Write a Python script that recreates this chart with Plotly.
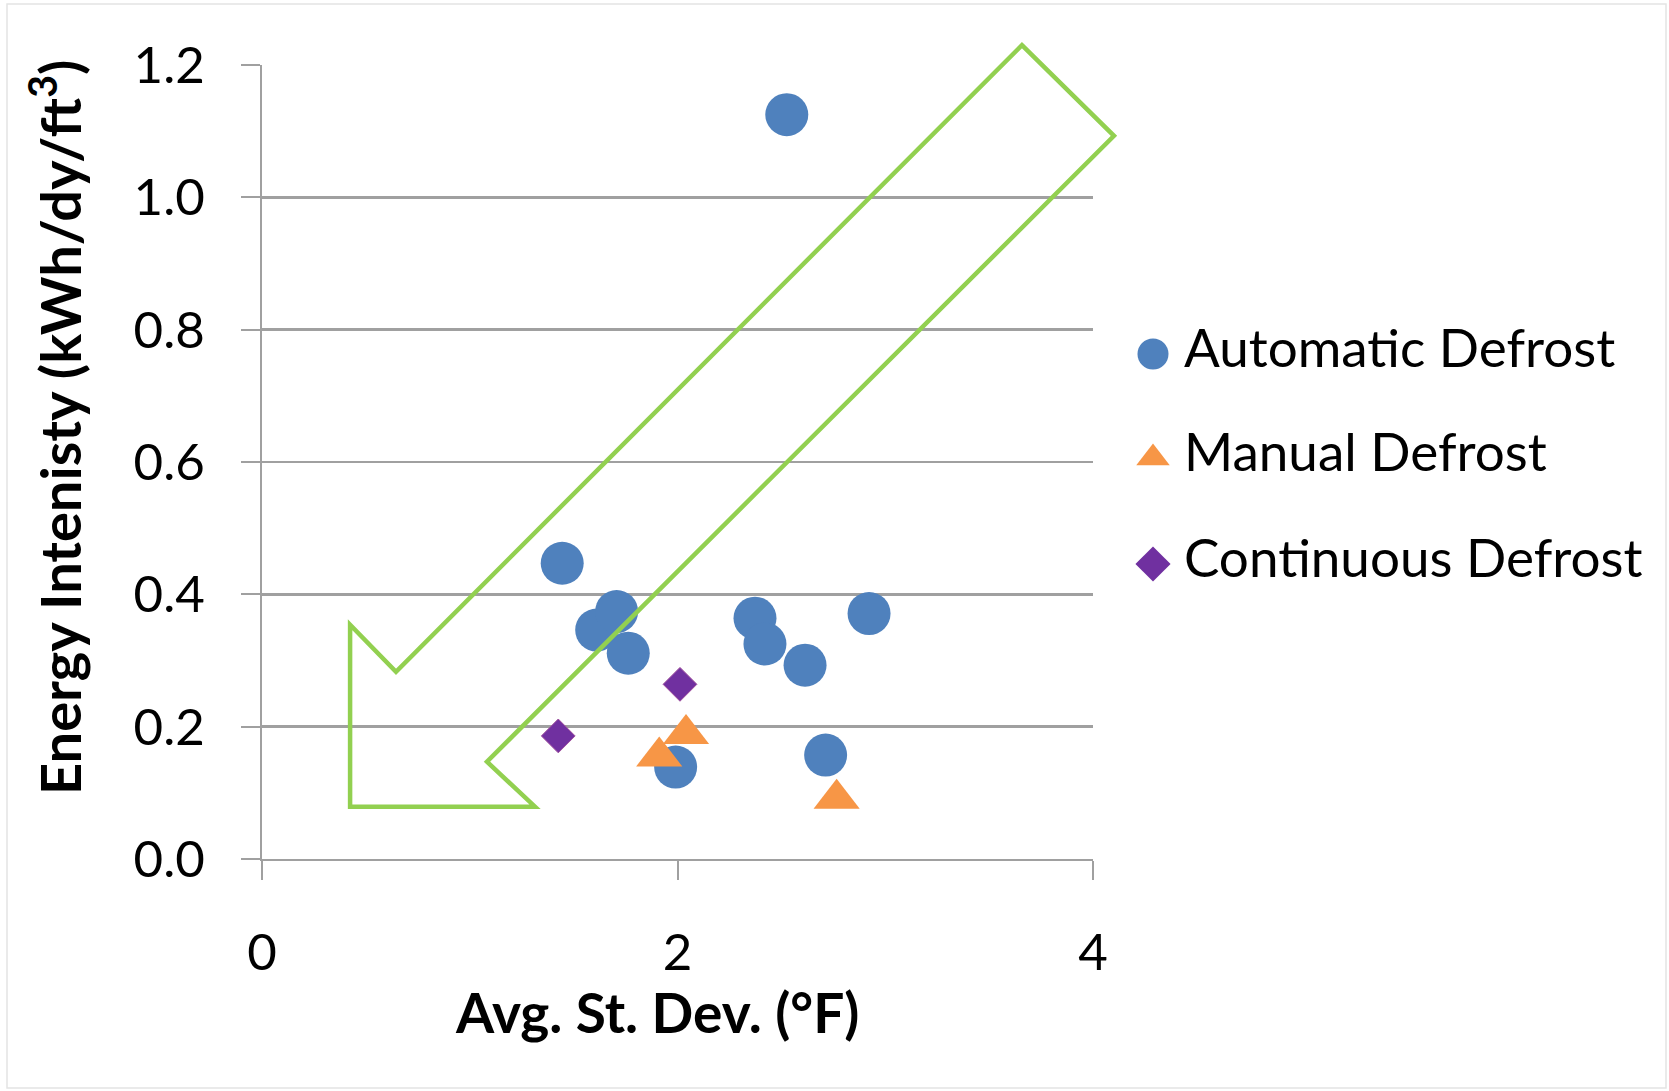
import plotly.graph_objects as go

# ---------------- data ----------------
series_names = ["Automatic Defrost", "Manual Defrost", "Continuous Defrost"]
auto_x = [1.445, 1.611, 1.707, 1.763, 2.373, 2.421, 2.614, 2.922, 1.991, 2.713, 2.526]
auto_y = [0.447, 0.346, 0.374, 0.311, 0.364, 0.325, 0.293, 0.371, 0.139, 0.157, 1.125]
manual_x = [1.912, 2.041, 2.766]
manual_y = [0.155, 0.189, 0.091]
cont_x = [1.426, 2.012]
cont_y = [0.186, 0.264]
x_ticks = [0, 2, 4]
y_ticks = [0.0, 0.2, 0.4, 0.6, 0.8, 1.0, 1.2]

# arrow outline (data units)
arrow_x = [3.658, 4.101, 1.083, 1.314, 0.424, 0.424, 0.645]
arrow_y = [1.230, 1.093, 0.147, 0.079, 0.079, 0.354, 0.283]

# ---------------- layout geometry ----------------
W, H = 1669, 1091
ML, MR, MT, MB = 262, 0, 65, 232
PW = W - ML - MR
PH = H - MT - MB
plot_w = 831
XMAX, YMAX = 4, 1.2
x_dom_end = plot_w / PW

def px_to_paper_x(px):
    return (px - ML) / PW

def px_to_paper_y(py):
    return (H - MB - py) / PH

def data_to_paper(x, y):
    return x / XMAX * x_dom_end, y / YMAX

FONT = "Lato, 'Open Sans', sans-serif"
BLUE = "#4F81BD"
ORANGE = "#F79646"
PURPLE = "#7030A0"
GREEN = "#92D050"
GRID = "#a0a0a0"

fig = go.Figure()

fig.add_trace(go.Scatter(x=auto_x, y=auto_y, mode="markers", name=series_names[0],
                         marker=dict(symbol="circle", size=43, color=BLUE, line=dict(width=0)),
                         showlegend=False, cliponaxis=False))
fig.add_trace(go.Scatter(x=manual_x, y=manual_y, mode="markers", name=series_names[1],
                         marker=dict(symbol="triangle-up", size=40, color=ORANGE, line=dict(width=0)),
                         showlegend=False, cliponaxis=False))
fig.add_trace(go.Scatter(x=cont_x, y=cont_y, mode="markers", name=series_names[2],
                         marker=dict(symbol="diamond", size=26, color=PURPLE,
                                     line=dict(width=1, color="#a0509e")),
                         showlegend=False, cliponaxis=False))

# ---------------- custom legend (second axis pair) ----------------
leg_dom_start_px = 1120
leg_w = W - MR - leg_dom_start_px
leg_sym_x = (1153 - leg_dom_start_px) / leg_w
leg_txt_x = (1184 - leg_dom_start_px) / leg_w
leg_y = [px_to_paper_y(p) for p in (354, 458, 564)]
leg_symbols = ["circle", "triangle-up", "diamond"]
leg_sizes = [31, 29, 27]
leg_colors = [BLUE, ORANGE, PURPLE]

for i in range(3):
    fig.add_trace(go.Scatter(x=[leg_sym_x], y=[leg_y[i]], xaxis="x2", yaxis="y2",
                             mode="markers", showlegend=False, hoverinfo="skip",
                             marker=dict(symbol=leg_symbols[i], size=leg_sizes[i],
                                         color=leg_colors[i], line=dict(width=0))))
fig.add_trace(go.Scatter(x=[leg_txt_x] * 3, y=leg_y, xaxis="x2", yaxis="y2",
                         mode="text", text=series_names, textposition="middle right",
                         textfont=dict(family=FONT, size=53, color="#000000"),
                         showlegend=False, hoverinfo="skip"))

# ---------------- arrow shape ----------------
pts = [data_to_paper(x, y) for x, y in zip(arrow_x, arrow_y)]
path = "M " + " L ".join(f"{px:.5f},{py:.5f}" for px, py in pts) + " Z"
fig.add_shape(type="path", path=path, xref="paper", yref="paper",
              line=dict(color=GREEN, width=4.5), fillcolor="rgba(0,0,0,0)", layer="above")

# faint frame around the image
fig.add_shape(type="rect", xref="paper", yref="paper",
              x0=px_to_paper_x(7), x1=px_to_paper_x(1666),
              y0=px_to_paper_y(1088), y1=px_to_paper_y(4),
              line=dict(color="#e4e4e4", width=1.5), layer="below")

# ---------------- axis titles ----------------
fig.add_annotation(text="<b>Energy Intenisty (kWh/dy/ft<sup>3</sup>)</b>",
                   xref="paper", yref="paper", x=px_to_paper_x(55), y=px_to_paper_y(428),
                   xanchor="center", yanchor="middle", textangle=-90, showarrow=False,
                   font=dict(family=FONT, size=56, color="#000000"))
fig.add_annotation(text="<b>Avg. St. Dev. (°F)</b>",
                   xref="paper", yref="paper", x=px_to_paper_x(657), y=px_to_paper_y(1012),
                   xanchor="center", yanchor="middle", showarrow=False,
                   font=dict(family=FONT, size=55, color="#000000"))

fig.update_layout(
    width=W, height=H, autosize=False,
    margin=dict(l=ML, r=MR, t=MT, b=MB, autoexpand=False),
    paper_bgcolor="white", plot_bgcolor="white",
    showlegend=False,
    font=dict(family=FONT, color="#000000"),
    xaxis=dict(domain=[0, x_dom_end], range=[0, XMAX], tickvals=x_ticks,
               ticktext=[str(v) for v in x_ticks],
               showgrid=False, zeroline=False, showline=True, linecolor=GRID, linewidth=2,
               ticks="outside", ticklen=19, tickwidth=2, tickcolor=GRID,
               tickfont=dict(family=FONT, size=51, color="#000000"),
               ticklabelstandoff=29),
    yaxis=dict(range=[0, YMAX], tickvals=y_ticks, ticktext=[f"{v:.1f}" for v in y_ticks],
               showgrid=True, gridcolor=GRID, gridwidth=2.5, zeroline=False,
               showline=True, linecolor=GRID, linewidth=2,
               ticks="outside", ticklen=19, tickwidth=2, tickcolor=GRID,
               tickfont=dict(family=FONT, size=51, color="#000000"),
               ticklabelstandoff=26),
    xaxis2=dict(domain=[(leg_dom_start_px - ML) / PW, 1], range=[0, 1], visible=False,
                anchor="y2", fixedrange=True),
    yaxis2=dict(domain=[0, 1], range=[0, 1], visible=False, anchor="x2", fixedrange=True),
)

fig.write_html("out.html",
               config={"responsive": False, "displayModeBar": False, "staticPlot": True},
               post_script="document.body.style.margin='0';document.body.style.overflow='hidden';")
